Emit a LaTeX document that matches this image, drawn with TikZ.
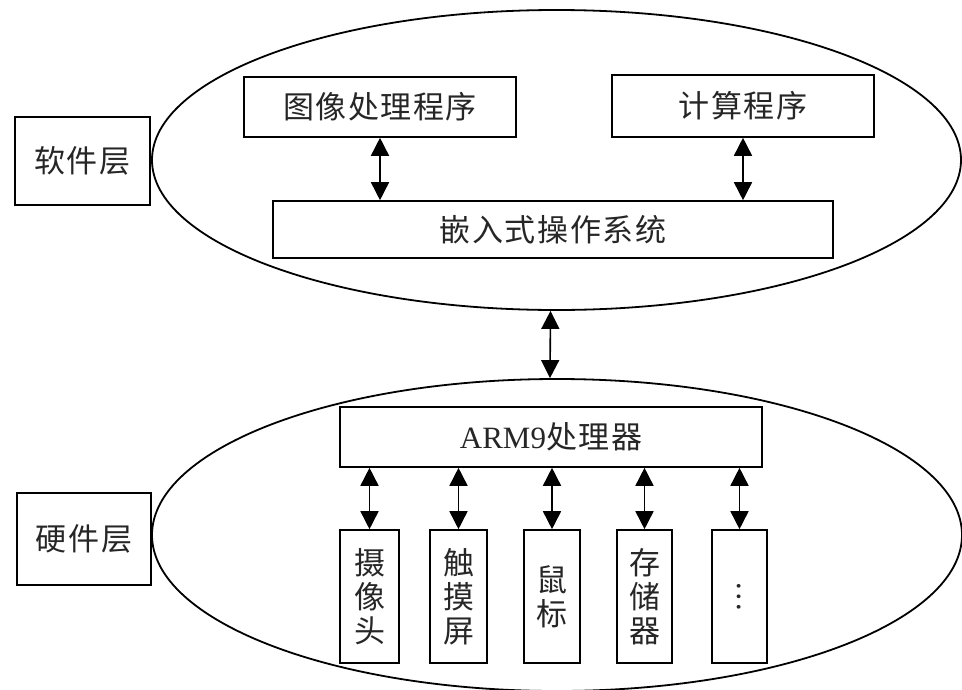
\documentclass[tikz,border=0pt]{standalone}
\usepackage{fontspec}
\setmainfont{Liberation Serif}
\newfontfamily\cjk[LetterSpace=5]{Noto Sans CJK SC}
\newfontfamily\cjkplain{Noto Sans CJK SC}
\usetikzlibrary{shapes.geometric,arrows.meta}
\begin{document}
\begin{tikzpicture}[x=1pt,y=-1pt,
  box/.style={draw, line width=1.6pt, inner sep=0pt, fill=white},
  lbl/.style={font=\fontsize{31}{34}\selectfont\cjk, text=black!85},
  vlbl/.style={font=\fontsize{31}{34}\selectfont\cjkplain, text=black!85, align=center},
  dbl/.style={{Triangle[width=18pt,length=18pt]}-{Triangle[width=18pt,length=18pt]}, line width=1.6pt},
  oval/.style={draw, ellipse, line width=1.8pt, inner sep=0pt}]
\useasboundingbox (0,0) rectangle (962,689);
% layers
\node[oval, minimum width=809pt, minimum height=300pt] (topE) at (556.5,160) {};
\node[oval, minimum width=810pt, minimum height=312pt] (botE) at (557,535) {};
\node[box, lbl, minimum width=135pt, minimum height=88pt] (soft) at (82.5,161) {软件层};
\node[box, lbl, minimum width=134pt, minimum height=92pt] (hard) at (84,539) {硬件层};
% software
\node[box, lbl, minimum width=272pt, minimum height=60pt] (img) at (380,107) {图像处理程序};
\node[box, lbl, minimum width=262pt, minimum height=62pt] (calc) at (743,106) {计算程序};
\node[box, lbl, minimum width=560pt, minimum height=57pt] (os) at (553,229.5) {嵌入式操作系统};
% hardware
\node[box, lbl, minimum width=422pt, minimum height=60pt] (arm) at (551,437) {{\fontsize{31}{34}\selectfont\rmfamily ARM9}处理器};
\node[box, vlbl, minimum width=59pt, minimum height=133pt] (cam) at (369.5,596.5) {摄\\像\\头};
\node[box, vlbl, minimum width=57pt, minimum height=133pt] (touch) at (458.5,596.5) {触\\摸\\屏};
\node[box, vlbl, minimum width=56pt, minimum height=133pt] (mouse) at (552,596.5) {鼠\\标};
\node[box, vlbl, minimum width=55pt, minimum height=133pt] (store) at (644.5,596.5) {存\\储\\器};
\node[box, minimum width=55pt, minimum height=133pt] (more) at (739.5,596.5) {};
\node[font=\fontsize{28}{30}\selectfont\cjkplain, text=black!85, rotate=-90, inner sep=0pt] (moretxt) at (more.center) {…};
% connectors
\draw[dbl] (img.south) -- (img.south |- os.north);
\draw[dbl] (calc.south) -- (calc.south |- os.north);
\draw[dbl] ([xshift=-6pt]topE.south) -- ([xshift=-7pt]botE.north);
\draw[dbl] (cam.north |- arm.south) -- (cam.north);
\draw[dbl] (touch.north |- arm.south) -- (touch.north);
\draw[dbl] (mouse.north |- arm.south) -- (mouse.north);
\draw[dbl] (store.north |- arm.south) -- (store.north);
\draw[dbl] (more.north |- arm.south) -- (more.north);
\end{tikzpicture}
\end{document}
